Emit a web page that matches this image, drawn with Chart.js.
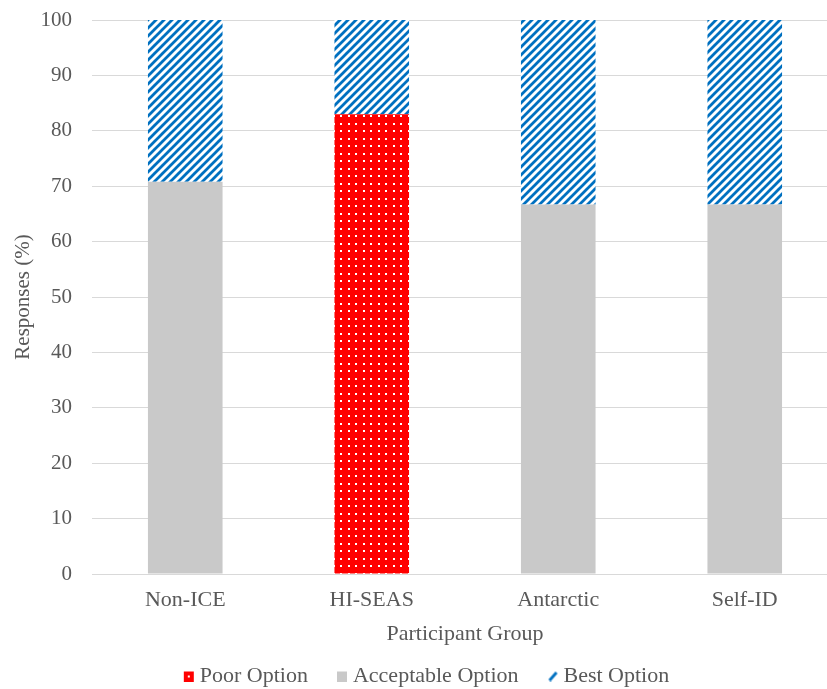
<!DOCTYPE html>
<html>
<head>
  <meta charset="utf-8">
  <title>Responses by Participant Group</title>
  <script src="https://cdn.jsdelivr.net/npm/chart.js"></script>
  <style>
    html, body {
      margin: 0;
      padding: 0;
      background: white;
      overflow: hidden;
    }
    .chart-box {
      width: 845px;
      height: 689px;
    }
  </style>
</head>
<body>
  <div class="chart-box">
    <canvas id="groupChart" width="845" height="689"></canvas>
  </div>

  <script>
    const groups     = ['Non-ICE', 'HI-SEAS', 'Antarctic', 'Self-ID'];
    const poor       = [null, 83.0, null, null];
    const acceptable = [70.8, null, 66.7, 66.7];
    const best       = [29.2, 17.0, 33.3, 33.3];

    const BLUE = '#0070C0';
    const RED  = '#FF0000';
    const GREY = '#C9C9C9';
    const TEXT = '#595959';
    const FONT = 'Liberation Serif';

    // fill patterns like the office chart
    function stripePattern(ctx) {
      const c = document.createElement('canvas');
      c.width = 8; c.height = 8;
      const g = c.getContext('2d');
      g.fillStyle = 'white';
      g.fillRect(0, 0, 8, 8);
      g.strokeStyle = BLUE;
      g.lineWidth = 2.8;
      g.beginPath();
      g.moveTo(-2, 10); g.lineTo(10, -2);
      g.moveTo(-2, 2);  g.lineTo(2, -2);
      g.moveTo(6, 10);  g.lineTo(10, 6);
      g.stroke();
      return ctx.createPattern(c, 'repeat');
    }

    function dotPattern(ctx) {
      const c = document.createElement('canvas');
      c.width = 15; c.height = 15;
      const g = c.getContext('2d');
      g.fillStyle = RED;
      g.fillRect(0, 0, 15, 15);
      g.fillStyle = 'white';
      [3, 10].forEach(x => [3, 10].forEach(y => g.fillRect(x, y, 2, 2)));
      return ctx.createPattern(c, 'repeat');
    }

    // legend icons: wide canvas, icon sits at the right so text follows closely
    function icon(draw) {
      const c = document.createElement('canvas');
      c.width = 32; c.height = 11;
      const g = c.getContext('2d');
      g.translate(21, 0);
      draw(g);
      return c;
    }
    const poorIcon = icon(g => {
      g.fillStyle = RED; g.fillRect(0, 1, 10, 10);
      g.fillStyle = 'white'; g.fillRect(4, 5, 2, 2);
    });
    const accIcon = icon(g => {
      g.fillStyle = GREY; g.fillRect(0, 1, 10, 10);
    });
    const bestIcon = icon(g => {
      g.strokeStyle = BLUE; g.lineWidth = 2.8;
      g.beginPath(); g.moveTo(2, 10); g.lineTo(9, 2); g.stroke();
    });

    // fixed height for the legend
    const fixLegend = {
      id: 'fixLegend',
      beforeInit(chart) {
        const fit = chart.legend.fit;
        chart.legend.fit = function () {
          fit.call(this);
          this.height = 38;
        };
      }
    };

    const ctx = document.getElementById('groupChart').getContext('2d');

    const chart = new Chart(ctx, {
      type: 'bar',
      data: {
        labels: groups,
        datasets: [
          { label: 'Poor Option',       data: poor,       backgroundColor: dotPattern(ctx),    pointStyle: poorIcon },
          { label: 'Acceptable Option', data: acceptable, backgroundColor: GREY,               pointStyle: accIcon },
          { label: 'Best Option',       data: best,       backgroundColor: stripePattern(ctx), pointStyle: bestIcon }
        ]
      },
      plugins: [fixLegend],
      options: {
        responsive: false,
        animation: false,
        devicePixelRatio: 1,
        layout: { padding: { top: 20, right: 7, left: 0, bottom: 0 } },
        datasets: {
          bar: { categoryPercentage: 1.0, barPercentage: 0.4, borderWidth: 0 }
        },
        plugins: {
          tooltip: { enabled: false },
          legend: {
            position: 'bottom',
            labels: {
              usePointStyle: true,
              boxWidth: 20,
              boxHeight: 11,
              pointStyleWidth: 20,
              padding: 14,
              color: TEXT,
              font: { family: FONT, size: 22 }
            }
          }
        },
        scales: {
          x: {
            stacked: true,
            grid: { display: false, drawTicks: false },
            border: { color: '#D9D9D9', width: 1 },
            ticks: { color: TEXT, padding: 13, font: { family: FONT, size: 22 } },
            title: {
              display: true,
              text: 'Participant Group',
              color: TEXT,
              padding: { top: 7, bottom: 4 },
              font: { family: FONT, size: 22 }
            },
            afterFit: scale => { scale.height = 77; }
          },
          y: {
            stacked: true,
            min: 0,
            max: 100,
            grid: { color: '#D9D9D9', drawTicks: false },
            border: { display: false },
            ticks: { stepSize: 10, color: TEXT, padding: 20, font: { family: FONT, size: 21 } },
            title: {
              display: true,
              text: 'Responses (%)',
              color: TEXT,
              padding: { top: 11, bottom: 6 },
              font: { family: FONT, size: 21 }
            },
            afterFit: scale => {
              scale.width = 92;
              scale.paddingTop = 0;
              scale.paddingBottom = 0;
            }
          }
        }
      }
    });
  </script>
</body>
</html>
